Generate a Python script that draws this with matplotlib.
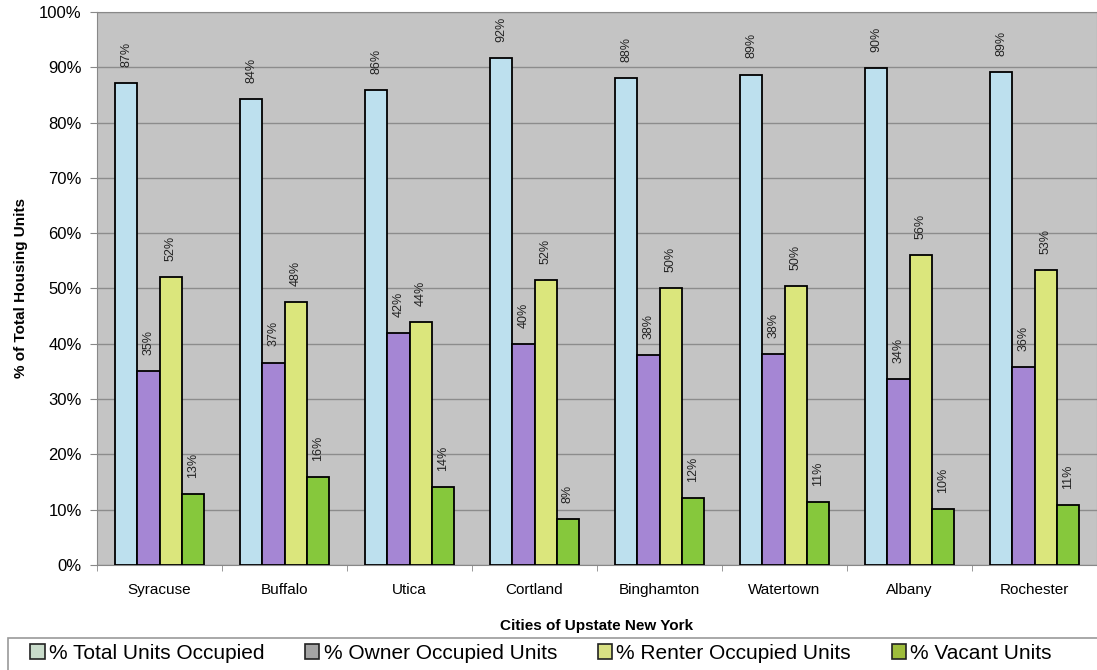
import numpy as np
import matplotlib.pyplot as plt
from matplotlib.patches import Patch, Rectangle

plt.rcParams['font.family'] = ['Liberation Sans', 'DejaVu Sans']

cities = ['Syracuse', 'Buffalo', 'Utica', 'Cortland', 'Binghamton',
          'Watertown', 'Albany', 'Rochester']
total_occ = [87.2, 84.3, 85.9, 91.7, 88.0, 88.7, 89.9, 89.2]
owner_occ = [35.1, 36.6, 42.0, 40.0, 37.9, 38.2, 33.7, 35.8]
renter_occ = [52.0, 47.6, 44.0, 51.6, 50.1, 50.5, 56.1, 53.4]
vacant = [12.8, 15.8, 14.1, 8.3, 12.0, 11.3, 10.1, 10.8]

series = [
    ('% Total Units Occupied', total_occ, '#bde0ee', '#c9dccb'),
    ('% Owner Occupied Units', owner_occ, '#a586d4', '#a4a4a4'),
    ('% Renter Occupied Units', renter_occ, '#dbe67c', '#d9e184'),
    ('% Vacant Units', vacant, '#86c83c', '#9ebd3c'),
]

fig = plt.figure(figsize=(10.97, 6.70), dpi=100)
ax = fig.add_axes([0.0885, 0.157, 0.9115, 0.825])
ax.set_facecolor('#c4c4c4')

x = np.arange(len(cities))
w = 0.178
for i, (name, vals, col, _) in enumerate(series):
    pos = x + (i - 1.5) * w
    ax.bar(pos, vals, w, color=col, edgecolor='black', linewidth=1.3, zorder=3)
    for p, v in zip(pos, vals):
        ax.text(p, v + 2.9, f'{v:.0f}%', rotation=90, ha='center', va='bottom',
                fontsize=9, color='#222222', zorder=4)

ax.set_ylim(0, 100)
ax.set_xlim(-0.5, len(cities) - 0.5)
ax.set_yticks(np.arange(0, 101, 10))
ax.set_yticklabels([f'{t}%' for t in range(0, 101, 10)], fontsize=12)
ax.yaxis.grid(True, color='#8c8c8c', linewidth=1, zorder=0)
ax.set_xticks(x)
ax.set_xticklabels(cities, fontsize=11)
ax.set_xticks(np.arange(-0.5, len(cities)), minor=True)
ax.tick_params(axis='x', which='major', length=0, pad=13)
ax.tick_params(axis='x', which='minor', length=4, color='#888888')
ax.tick_params(axis='y', length=5, color='#888888', pad=6)
for s in ax.spines.values():
    s.set_color('#888888')

ax.set_ylabel('% of Total Housing Units', fontsize=11, fontweight='bold', labelpad=8)
ax.set_xlabel('Cities of Upstate New York', fontsize=11, fontweight='bold', labelpad=16)

# legend box along the bottom edge
fig.patches.append(Rectangle((8 / 1097, -0.01), 1.0, 0.058, transform=fig.transFigure,
                             facecolor='white', edgecolor='#999999', linewidth=1.2))
handles = [Patch(facecolor=lc, edgecolor='#222222', linewidth=1.2, label=name)
           for name, _, _, lc in series]
leg = fig.legend(handles=handles, loc='center left', bbox_to_anchor=(30 / 1097, 0.025),
                 ncol=4, fontsize=15, frameon=False, borderaxespad=0, borderpad=0,
                 handlelength=0.7, handleheight=0.7, handletextpad=0.2,
                 columnspacing=1.95)

fig.savefig('out.png', dpi=100)
